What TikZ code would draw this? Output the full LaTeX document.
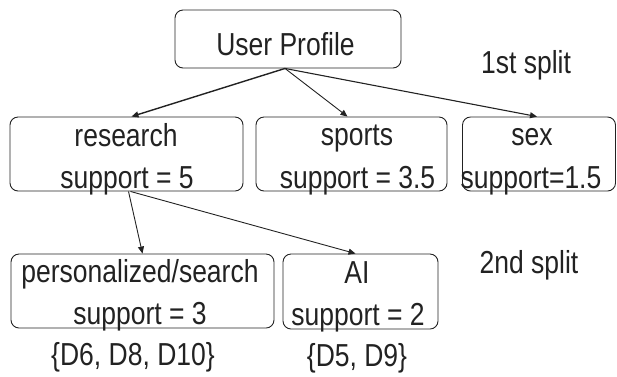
\documentclass[tikz,border=0pt]{standalone}
\usepackage{fontspec}
\setmainfont{Liberation Sans}
\usetikzlibrary{arrows.meta}
\newcommand{\tall}[1]{\scalebox{1}[1.2]{#1}}
\definecolor{ink}{HTML}{222222}

\begin{document}
\begin{tikzpicture}[x=1pt, y=-1pt,
    category/.style ={draw=ink, line width=0.9pt, rounded corners=8pt, inner sep=0pt},
    caption/.style ={anchor=base, inner sep=0pt, text=ink, font=\fontsize{26.5}{30}\selectfont},
    arrow/.style ={draw=ink, line width=0.9pt, -{Triangle[length=7pt, width=6pt]}}]
   \useasboundingbox (0,0) rectangle (617,376);
   % boxes
   \node[category, minimum width=226pt, minimum height=58pt] (UP) at (288,39) {};
   \node[category, minimum width=233pt, minimum height=74pt] (res) at (126.5,154) {};
   \node[category, minimum width=191pt, minimum height=74pt] (spo) at (351.5,154) {};
   \node[category, minimum width=153pt, minimum height=74pt] (sex) at (539,154) {};
   \node[category, minimum width=263pt, minimum height=74pt] (per) at (142.5,291) {};
   \node[category, minimum width=155pt, minimum height=75pt] (ai) at (360.5,291.5) {};
   % texts
   \node[caption] (UP-t) at (285.5,55) {\tall{User Profile}};
   \node[caption] (res-t) at (126,146) {\tall{research}};
   \node[caption] (res-s) at (127,188) {\tall{support = 5}};
   \node[caption] (spo-t) at (357,145) {\tall{sports}};
   \node[caption] (spo-s) at (357.5,188) {\tall{support = 3.5}};
   \node[caption] (sex-t) at (532,145) {\tall{sex}};
   \node[caption] (sex-s) at (531,188) {\tall{support=1.5}};
   \node[caption] (per-t) at (140,282) {\tall{personalized/search}};
   \node[caption] (per-s) at (140,324) {\tall{support = 3}};
   \node[caption] (ai-t) at (357,283) {\tall{AI}};
   \node[caption] (ai-s) at (358,325) {\tall{support = 2}};
   \node[caption] (per-d) at (133,365) {\tall{\{D6, D8, D10\}}};
   \node[caption] (ai-d) at (357,366) {\tall{\{D5, D9\}}};
   \node[caption] (split1) at (526,73) {\tall{1st split}};
   \node[caption] (split2) at (529,273) {\tall{2nd split}};
   % splits
   \draw[arrow, line width=1.4pt] ([xshift=-3pt]UP.south) to ([xshift=5pt]res.north);
   \draw[arrow] ([xshift=-3pt]UP.south) to ([xshift=-4pt]spo.north);
   \draw[arrow, line width=1.1pt] ([xshift=-3pt]UP.south) to ([xshift=-2pt]sex.north);
   \draw[arrow] ([xshift=2pt]res.south) to (per.north);
   \draw[arrow] ([xshift=4pt]res.south) to ([xshift=-5pt]ai.north);
\end{tikzpicture}
\end{document}
